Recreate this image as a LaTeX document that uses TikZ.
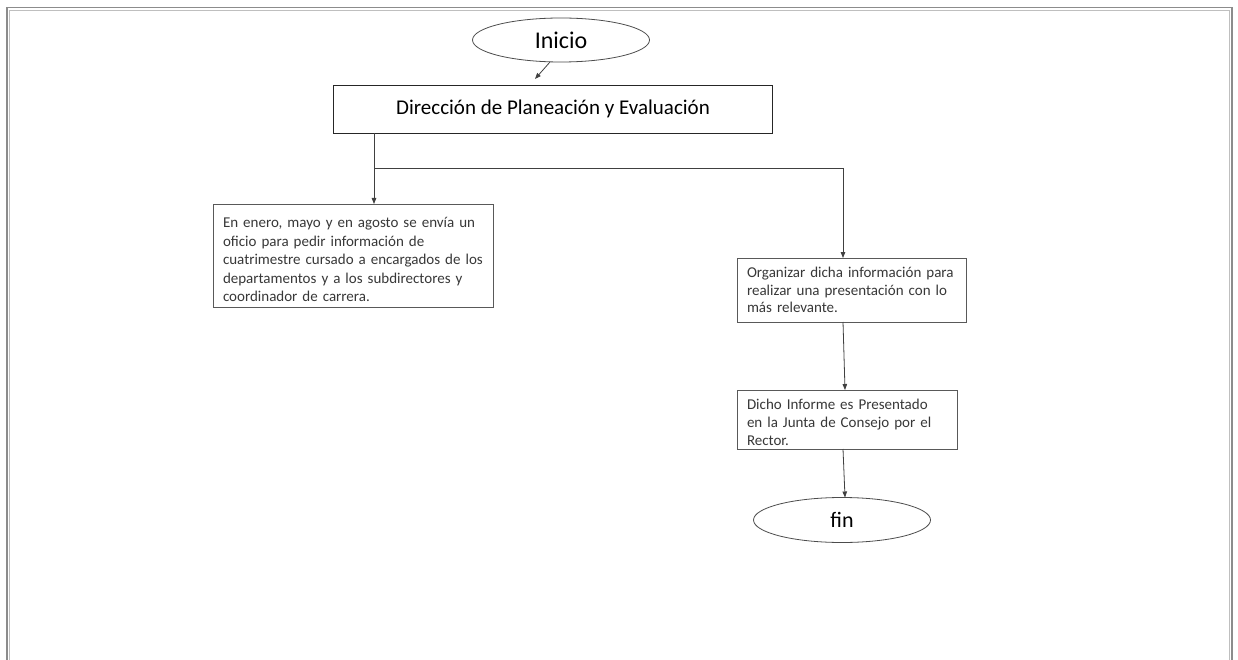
\documentclass[tikz,border=0pt]{standalone}
\usepackage{fontspec}
\setmainfont{Carlito}
\usetikzlibrary{arrows.meta,shapes.geometric}
% one unbreakable line of box text
\newcommand{\boxline}[1]{\mbox{#1}}
\begin{document}
\begin{tikzpicture}[x=1pt,y=-1pt,
  every node/.style={inner sep=0pt,outer sep=0pt},
  oval/.style={draw=black!70,line width=0.8pt,ellipse},
  head/.style={draw=black!85,line width=0.9pt,fill=white},
  stepbox/.style={draw=black!65,line width=0.9pt,fill=white,align=left,
    font=\fontsize{15}{18.5}\selectfont,text=black!78,inner xsep=10pt},
  link/.style={draw=black!75,line width=0.8pt},
  arr/.style={link,-{Triangle[length=6pt,width=4.5pt]}}]
\useasboundingbox (0,0) rectangle (1238,660);
\fill[white] (0,0) rectangle (1238,660);
% page frame
\draw[black!45,line width=1.2pt] (7,662) -- (7,7.5) -- (1232,7.5) -- (1232,662);
\draw[black!25,line width=0.8pt] (9.5,662) -- (9.5,10) -- (1229.5,10) -- (1229.5,662);

% nodes
\node[oval,minimum width=177,minimum height=44,font=\fontsize{24}{26}\selectfont] (ini) at (561,40) {Inicio};
\node[head,minimum width=439,minimum height=48,font=\fontsize{21}{24}\selectfont] (dir) at (553,109) {Dirección de Planeación y Evaluación};
\node[stepbox,text width=260,minimum height=103,anchor=north west] (env) at (213,204)
  {\boxline{\rule{0pt}{19pt}En enero, mayo y en agosto se envía un}\\\boxline{oficio para pedir información de}\\\boxline{cuatrimestre cursado a encargados de los}\\\boxline{departamentos y a los subdirectores y}\\\boxline{coordinador de carrera.}};
\node[stepbox,text width=209,minimum height=64,anchor=north west,font=\fontsize{15}{17.5}\selectfont] (org) at (737,258)
  {\boxline{Organizar dicha información para}\\\boxline{realizar una presentación con lo}\\\boxline{más relevante.}};
\node[stepbox,text width=200,minimum height=59,anchor=north west,font=\fontsize{15}{18}\selectfont] (inf) at (737,390)
  {\boxline{\rule{0pt}{17pt}Dicho Informe es Presentado}\\\boxline{en la Junta de Consejo por el}\\\boxline{Rector.}};
\node[oval,minimum width=177,minimum height=45,font=\fontsize{22}{24}\selectfont] (fin) at (842,520) {fin};

% connectors
\coordinate (split) at (374,168);
\coordinate (tip) at (535,79);
\draw[arr] (ini.south) ++(-11,0) -- (tip);
\draw[arr] (dir.south -| split) -- (env.north -| split);
\draw[link] (split) -- (split -| 843,0);
\draw[arr] (split -| 843,0) -- (org.north -| 843,0);
\draw[arr] (org.south -| 843,0) -- (inf.north -| 845,0);
\draw[arr] (inf.south -| 843,0) -- (fin.north -| 845,0);
\end{tikzpicture}
\end{document}
